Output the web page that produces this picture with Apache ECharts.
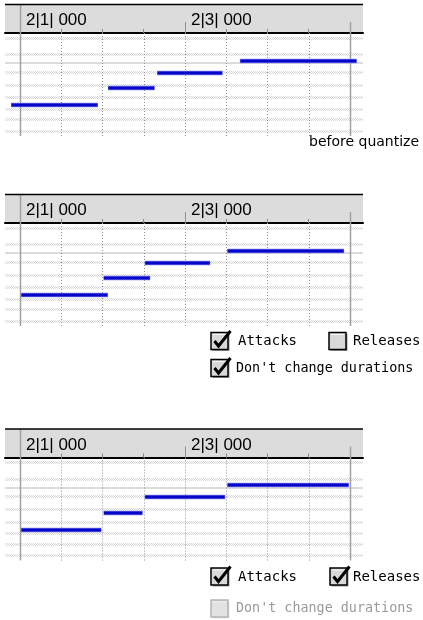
<!DOCTYPE html>
<html><head><meta charset="utf-8">
<script src="https://cdn.jsdelivr.net/npm/echarts@6/dist/echarts.min.js"></script>
<style>html,body{margin:0;padding:0;background:#fff}#c{width:423px;height:620px}</style>
</head><body><div id="c"></div>
<script>
// ---- data (MIDI ticks, 480 per beat; 0 = bar 2 beat 1) ----
const eighthTicks = [0, 240, 480, 720, 960, 1200, 1440, 1680, 1920];
const minorTicks = [240, 480, 720, 1200, 1440, 1680];
const labelTicks = [0, 960];
const tickLabels = ['2|1| 000', '2|3| 000'];
const rowPitches = [79.2, 76.5, 73.6, 71.5, 69.4, 67.5, 65.8, 63.9];
const octaveLine = [75.0];
const notePitches = [68.1, 70.9, 73.4, 75.4];
const beforeStarts = [-58, 506, 792, 1274];
const beforeEnds = [460, 790, 1185, 1966];
const attacksStarts = [0, 480, 720, 1200];
const attacksEnds = [518, 764, 1113, 1892];
const bothStarts = [0, 480, 720, 1200];
const bothEnds = [480, 720, 1200, 1920];

const panels = [
  {starts: beforeStarts, ends: beforeEnds},
  {starts: attacksStarts, ends: attacksEnds},
  {starts: bothStarts, ends: bothEnds}
];
const gridTops = [33, 223, 457.5];
const GRID_H = 103, HEADER_H = 28.5, LEFT = 5, WIDTH = 358;
const XMIN = -87, XMAX = 1996, YMIN = 63, YMAX = 80;

const chart = echarts.init(document.getElementById('c'), null, {renderer: 'canvas'});

function renderRow(params, api) {
  const cs = params.coordSys;
  const y = Math.round(api.coord([0, api.value(1)])[1]);
  const children = [];
  for (let k = -1; k <= 1; k++) {
    children.push({type: 'line', shape: {x1: cs.x, y1: y + k + 0.5, x2: cs.x + cs.width, y2: y + k + 0.5},
      style: {stroke: k === 0 ? '#d2d2d2' : '#dadada', lineWidth: 1, lineDash: [1, 1], lineDashOffset: k === 0 ? 1 : 0}});
  }
  return {type: 'group', children};
}
function renderOctave(params, api) {
  const cs = params.coordSys;
  const y = Math.round(api.coord([0, api.value(1)])[1]);
  return {type: 'line', shape: {x1: cs.x, y1: y, x2: cs.x + cs.width, y2: y},
    style: {stroke: '#dcdcdc', lineWidth: 2}};
}
function renderBeat(params, api) {
  const cs = params.coordSys;
  const v = api.value(0);
  const x = Math.round(api.coord([v, YMIN])[0]) + 0.5;
  const bottom = cs.y + cs.height;
  const solid = {stroke: '#a0a0a0', lineWidth: 1.5};
  if (v === eighthTicks[0]) {
    return {type: 'line', shape: {x1: x, y1: cs.y - HEADER_H, x2: x, y2: bottom}, style: solid};
  }
  if (v === eighthTicks[eighthTicks.length - 1]) {
    return {type: 'line', shape: {x1: x, y1: cs.y - 11, x2: x, y2: bottom}, style: solid};
  }
  const children = [{type: 'line', shape: {x1: x, y1: cs.y, x2: x, y2: bottom},
    style: {stroke: '#8f8f8f', lineWidth: 1, lineDash: [1, 2]}}];
  if (labelTicks.indexOf(v) >= 0) {
    children.push({type: 'line', shape: {x1: x, y1: cs.y - 11, x2: x, y2: cs.y}, style: {stroke: '#909090', lineWidth: 1}});
  }
  return {type: 'group', children};
}
function renderNote(params, api) {
  const a = api.coord([api.value(0), api.value(2)]);
  const b = api.coord([api.value(1), api.value(2)]);
  const y = Math.round(a[1]);
  return {type: 'group', children: [
    {type: 'line', shape: {x1: a[0] + 1, y1: y, x2: b[0] - 1, y2: y}, style: {stroke: '#7c7cea', lineWidth: 4.5}},
    {type: 'line', shape: {x1: a[0] + 1.5, y1: y, x2: b[0] - 1.5, y2: y}, style: {stroke: '#0505cc', lineWidth: 3}}
  ]};
}

const grid = [], xAxis = [], yAxis = [], series = [];
panels.forEach((p, i) => {
  grid.push({left: LEFT, width: WIDTH, top: gridTops[i], height: GRID_H});
  xAxis.push({
    type: 'value', gridIndex: i, min: XMIN, max: XMAX, position: 'top',
    axisLine: {show: true, lineStyle: {color: '#000', width: 2}},
    axisTick: {show: true, customValues: minorTicks, length: 4, inside: false, lineStyle: {color: '#8a8a8a', width: 1}},
    axisLabel: {show: true, customValues: labelTicks, formatter: v => tickLabels[labelTicks.indexOf(v)],
      align: 'left', padding: [0, 0, 0, 6], margin: 4, fontSize: 17, fontFamily: 'Liberation Sans', color: '#000'},
    splitLine: {show: false}
  });
  yAxis.push({type: 'value', gridIndex: i, min: YMIN, max: YMAX, show: false, splitLine: {show: false}});
  series.push({type: 'custom', xAxisIndex: i, yAxisIndex: i, clip: false, z: 1, silent: true,
    renderItem: renderRow, data: rowPitches.map(v => [0, v])});
  series.push({type: 'custom', xAxisIndex: i, yAxisIndex: i, clip: false, z: 1, silent: true,
    renderItem: renderOctave, data: octaveLine.map(v => [0, v])});
  series.push({type: 'custom', xAxisIndex: i, yAxisIndex: i, clip: false, z: 2, silent: true,
    renderItem: renderBeat, data: eighthTicks.map(v => [v, YMIN])});
  series.push({type: 'custom', xAxisIndex: i, yAxisIndex: i, clip: false, z: 3, silent: true,
    renderItem: renderNote, encode: {x: [0, 1], y: 2},
    data: p.starts.map((s, k) => [s, p.ends[k], notePitches[k]])});
});

// ---- decorations: header bands, checkboxes, captions ----
const graphic = [];
gridTops.forEach(t => {
  graphic.push({type: 'rect', z: -10, shape: {x: LEFT, y: t - HEADER_H, width: WIDTH, height: HEADER_H},
    style: {fill: '#dcdcdc'}});
  graphic.push({type: 'line', z: 5, shape: {x1: LEFT, y1: t - HEADER_H, x2: LEFT + WIDTH, y2: t - HEADER_H},
    style: {stroke: '#000', lineWidth: 1.5}});
});
function checkbox(x, y, checked, disabled) {
  const els = [];
  els.push({type: 'rect', shape: {x: x + 1.5, y: y + 1.5, width: 17, height: 17}, style: {fill: disabled ? '#e6e6e6' : '#9a9a9a'}});
  els.push({type: 'rect', shape: {x: x, y: y, width: 17, height: 17},
    style: {fill: disabled ? '#e2e2e2' : '#d8d8d8', stroke: disabled ? '#b4b4b4' : '#000', lineWidth: 1.5}});
  els.push({type: 'polyline', shape: {points: [[x + 2, y + 2], [x + 15, y + 2]]}, style: {stroke: disabled ? '#eeeeee' : '#f4f4f4', lineWidth: 1}});
  if (checked) {
    els.push({type: 'polyline', shape: {points: [[x + 3.5, y + 8.5], [x + 7.5, y + 13.5], [x + 19.5, y - 1.5]]},
      style: {stroke: '#000', lineWidth: 3, fill: null, lineJoin: 'miter'}});
  }
  return els;
}
function label(text, x, y, disabled, size) {
  return {type: 'text', style: {text, x, y, fill: disabled ? '#9a9a9a' : '#000', fontSize: size || 14,
    fontFamily: 'DejaVu Sans Mono', verticalAlign: 'middle', align: 'left'}};
}
graphic.push({type: 'text', style: {text: 'before quantize', x: 309, y: 142, fill: '#000', fontSize: 14,
  fontFamily: 'DejaVu Sans', verticalAlign: 'middle', align: 'left'}});
// panel 2 options
graphic.push(...checkbox(211, 332.5, true, false), label('Attacks', 238, 341.5, false));
graphic.push(...checkbox(329, 332.5, false, false), label('Releases', 353, 341.5, false));
graphic.push(...checkbox(211, 359.5, true, false), label("Don't change durations", 236, 368.5, false, 13.4));
// panel 3 options
graphic.push(...checkbox(211, 568, true, false), label('Attacks', 238, 577.5, false));
graphic.push(...checkbox(330, 568, true, false), label('Releases', 353, 577.5, false));
graphic.push(...checkbox(211, 600, false, true), label("Don't change durations", 236, 609, true, 13.4));

chart.setOption({
  animation: false,
  backgroundColor: '#fff',
  grid, xAxis, yAxis, series, graphic
});
</script></body></html>
